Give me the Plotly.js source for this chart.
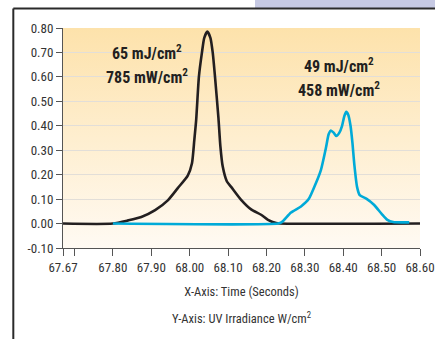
<!DOCTYPE html>
<html>
<head>
<meta charset="utf-8">
<script src="https://cdn.plot.ly/plotly-3.0.1.min.js"></script>
<style>
html,body{margin:0;padding:0;background:#fff;}
#chart{width:435px;height:339px;}
</style>
</head>
<body>
<div id="chart"></div>
<script>
// ---- data ----
const blackX = [67.67, 67.80, 67.84, 67.874, 67.91, 67.943, 67.969, 67.995, 68.006, 68.012, 68.017, 68.024, 68.032, 68.038, 68.046, 68.054, 68.060, 68.066, 68.075, 68.080, 68.086, 68.097, 68.108, 68.134, 68.16, 68.186, 68.204, 68.225, 68.235, 68.60];
const blackY = [0, 0, 0.013, 0.027, 0.055, 0.095, 0.145, 0.196, 0.247, 0.34, 0.425, 0.60, 0.70, 0.76, 0.785, 0.76, 0.70, 0.60, 0.43, 0.316, 0.234, 0.172, 0.150, 0.097, 0.058, 0.036, 0.015, 0.002, 0, 0];
const cyanX = [67.80, 68.23, 68.24, 68.264, 68.29, 68.31, 68.329, 68.342, 68.355, 68.362, 68.368, 68.375, 68.382, 68.390, 68.397, 68.403, 68.408, 68.413, 68.419, 68.424, 68.429, 68.436, 68.443, 68.46, 68.48, 68.50, 68.515, 68.53, 68.572];
const cyanY = [0, 0, 0.006, 0.045, 0.07, 0.10, 0.166, 0.22, 0.31, 0.365, 0.381, 0.372, 0.358, 0.372, 0.40, 0.44, 0.457, 0.445, 0.40, 0.33, 0.24, 0.15, 0.116, 0.102, 0.077, 0.040, 0.015, 0.006, 0.005];
const xTickVals = [67.67, 67.70, 67.80, 67.90, 68.00, 68.10, 68.20, 68.30, 68.40, 68.50, 68.60];
const xTickText = ['67.67', '', '67.80', '67.90', '68.00', '68.10', '68.20', '68.30', '68.40', '68.50', '68.60'];
const yTickVals = [-0.10, 0.00, 0.10, 0.20, 0.30, 0.40, 0.50, 0.60, 0.70, 0.80];
const yTickText = ['-0.10', '0.00', '0.10', '0.20', '0.30', '0.40', '0.50', '0.60', '0.70', '0.80'];
const peak1Label = ['65 mJ/cm<sup>2</sup>', '785 mW/cm<sup>2</sup>'];
const peak2Label = ['49 mJ/cm<sup>2</sup>', '458 mW/cm<sup>2</sup>'];

const FONT = '"Liberation Sans Narrow", "Roboto Condensed", "DejaVu Sans Condensed", "Liberation Sans", sans-serif';

const grad = 'data:image/svg+xml;utf8,' + encodeURIComponent(
  '<svg xmlns="http://www.w3.org/2000/svg" width="100" height="100" preserveAspectRatio="none">' +
  '<defs><linearGradient id="g" x1="0" y1="0" x2="0" y2="1">' +
  '<stop offset="0" stop-color="#fde2ab"/><stop offset="1" stop-color="#fffaf3"/>' +
  '</linearGradient></defs><rect width="100" height="100" fill="url(#g)"/></svg>');

const traces = [
  {x: blackX, y: blackY, type: 'scatter', mode: 'lines',
   line: {color: '#231f20', width: 2.6, shape: 'spline', smoothing: 0.6}, hoverinfo: 'skip'},
  {x: cyanX, y: cyanY, type: 'scatter', mode: 'lines',
   line: {color: '#00aad8', width: 2.6, shape: 'spline', smoothing: 0.6}, hoverinfo: 'skip'}
];

const layout = {
  width: 435, height: 339,
  margin: {l: 63, r: 15, t: 28, b: 91},
  paper_bgcolor: '#ffffff',
  plot_bgcolor: 'rgba(0,0,0,0)',
  showlegend: false,
  font: {family: FONT, size: 13, color: '#333333'},
  xaxis: {
    range: [67.67, 68.60], tickmode: 'array', tickvals: xTickVals, ticktext: xTickText,
    showgrid: false, zeroline: false, showline: true, linecolor: '#555', linewidth: 1,
    ticks: 'outside', ticklen: 7, tickcolor: '#555', tickfont: {size: 13, color: '#333'},
    title: {text: 'X-Axis: Time (Seconds)', font: {size: 12.5, color: '#333'}, standoff: 13}
  },
  yaxis: {
    range: [-0.10, 0.80], tickmode: 'array', tickvals: yTickVals, ticktext: yTickText,
    showgrid: true, gridcolor: '#e2ded8', gridwidth: 1, zeroline: false,
    showline: true, linecolor: '#555', linewidth: 1,
    ticks: 'outside', ticklen: 6, tickcolor: '#555', tickfont: {size: 13, color: '#333'}
  },
  images: [{source: grad, xref: 'paper', yref: 'paper', x: 0, y: 1, sizex: 1, sizey: 1,
            sizing: 'stretch', xanchor: 'left', yanchor: 'top', layer: 'below'}],
  shapes: [
    {type: 'rect', xref: 'paper', yref: 'paper', x0: 0.5378, x1: 1.05, y0: 1.0886, y1: 1.13,
     fillcolor: '#c6c9e3', line: {width: 0}},
    {type: 'line', xref: 'paper', yref: 'paper', x0: -0.1392, x1: 1.05, y0: 1.0886, y1: 1.0886,
     line: {color: '#2a2a2a', width: 2}},
    {type: 'line', xref: 'paper', yref: 'paper', x0: -0.1392, x1: -0.1392, y0: 1.0886, y1: -0.42,
     line: {color: '#2a2a2a', width: 2}}
  ],
  annotations: [
    {text: peak1Label[0], x: 67.89, y: 0.70, xref: 'x', yref: 'y', showarrow: false,
     font: {size: 16, color: '#231f20', family: FONT, weight: 'bold'}},
    {text: peak1Label[1], x: 67.89, y: 0.60, xref: 'x', yref: 'y', showarrow: false,
     font: {size: 16, color: '#231f20', family: FONT, weight: 'bold'}},
    {text: peak2Label[0], x: 68.39, y: 0.645, xref: 'x', yref: 'y', showarrow: false,
     font: {size: 16, color: '#231f20', family: FONT, weight: 'bold'}},
    {text: peak2Label[1], x: 68.39, y: 0.55, xref: 'x', yref: 'y', showarrow: false,
     font: {size: 16, color: '#231f20', family: FONT, weight: 'bold'}},
    {text: 'Y-Axis: UV Irradiance W/cm<sup>2</sup>', xref: 'paper', yref: 'paper',
     x: 0.5, y: -0.318, yanchor: 'middle', showarrow: false,
     font: {size: 12.5, color: '#333', family: FONT}}
  ]
};

Plotly.newPlot('chart', traces, layout, {displayModeBar: false, staticPlot: true});
</script>
</body>
</html>
